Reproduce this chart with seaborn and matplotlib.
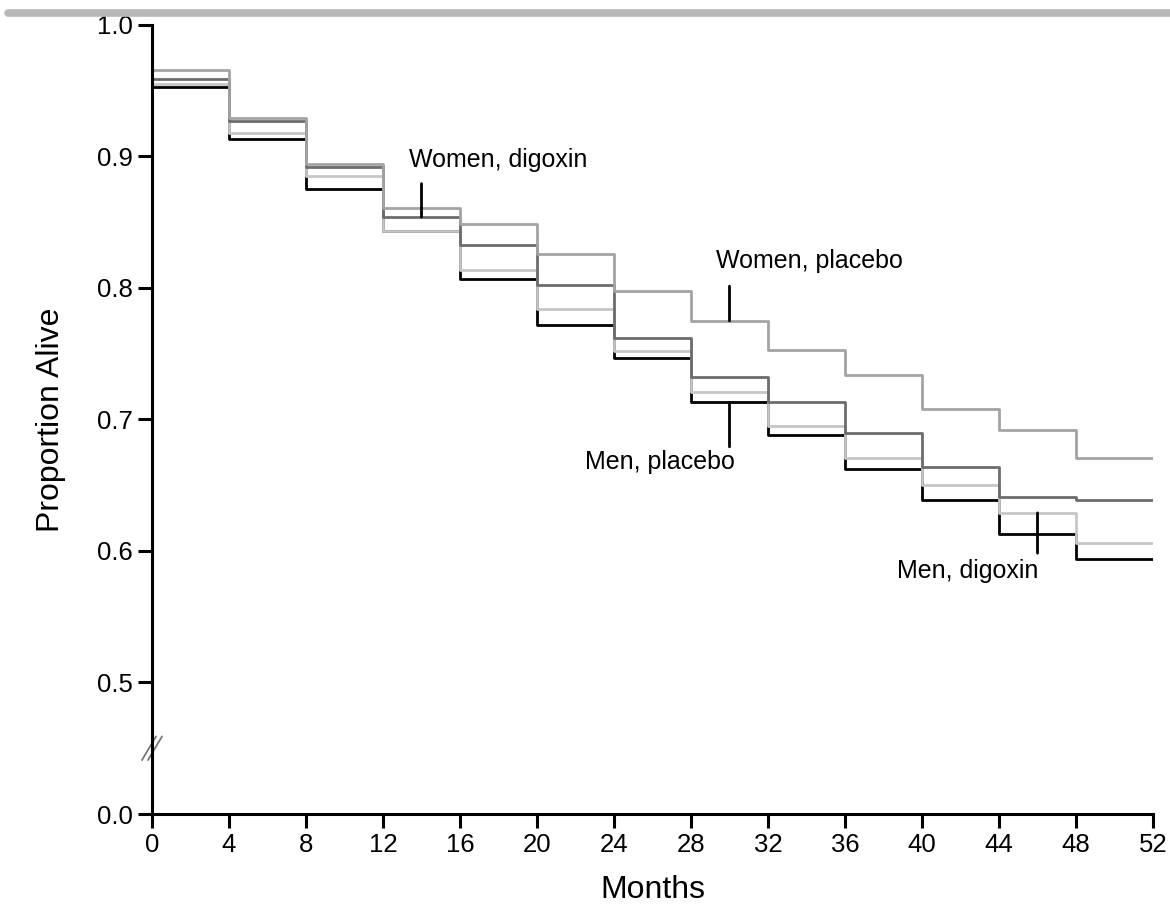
import numpy as np
import pandas as pd
import matplotlib
matplotlib.use("Agg")
import matplotlib.pyplot as plt
from matplotlib.lines import Line2D
import seaborn as sns

# month grid (4-month steps) and survival level in each interval
months = list(range(0, 53, 4))
women_placebo = [0.966, 0.929, 0.894, 0.861, 0.849, 0.826, 0.798, 0.775, 0.753, 0.734, 0.708, 0.692, 0.671]
women_digoxin = [0.959, 0.927, 0.892, 0.854, 0.833, 0.802, 0.762, 0.732, 0.713, 0.690, 0.664, 0.641, 0.639]
men_digoxin = [0.955, 0.918, 0.885, 0.843, 0.814, 0.784, 0.752, 0.721, 0.695, 0.671, 0.650, 0.629, 0.606]
men_placebo = [0.953, 0.913, 0.875, 0.843, 0.807, 0.772, 0.747, 0.713, 0.688, 0.662, 0.639, 0.613, 0.594]

y_ticks = [0.0, 0.5, 0.6, 0.7, 0.8, 0.9, 1.0]

series = {
    "Men, placebo": (men_placebo, "#000000"),
    "Men, digoxin": (men_digoxin, "#c6c6c6"),
    "Women, digoxin": (women_digoxin, "#6c6c6c"),
    "Women, placebo": (women_placebo, "#a3a3a3"),
}

rows = []
for name, (vals, _) in series.items():
    # last level is held until month 52
    for m, v in zip(months, vals + [vals[-1]]):
        rows.append({"Months": m, "Proportion Alive": v, "group": name})
df = pd.DataFrame(rows)


def level(vals, month):
    return vals[int(month // 4)]


sns.set_style("ticks")
plt.rcParams["font.family"] = ["Liberation Sans", "DejaVu Sans"]
for key in ["text.color", "axes.labelcolor", "xtick.color", "ytick.color", "axes.edgecolor"]:
    plt.rcParams[key] = "black"

fig = plt.figure(figsize=(11.7, 9.08), dpi=100)
ax = fig.add_axes([152 / 1170, 94 / 908, 1001 / 1170, 789 / 908])

# broken y axis: 0.0-0.5 squeezed into one tenth
def fwd(v):
    v = np.asarray(v, dtype=float)
    return np.where(v >= 0.5, v, 0.4 + 0.2 * v)

def inv(u):
    u = np.asarray(u, dtype=float)
    return np.where(u >= 0.5, u, (u - 0.4) / 0.2)

ax.set_yscale("function", functions=(fwd, inv))

sns.lineplot(data=df, x="Months", y="Proportion Alive", hue="group",
             hue_order=list(series.keys()),
             palette={k: c for k, (_, c) in series.items()},
             drawstyle="steps-post", lw=2.0, legend=False, ax=ax,
             estimator=None)

ax.set_xlim(0, 52)
ax.set_ylim(0.0, 1.0)
ax.set_xticks(months)
ax.set_yticks(y_ticks)
ax.set_yticklabels([f"{t:.1f}" for t in y_ticks])
ax.minorticks_off()

sns.despine(ax=ax)
for s in ["left", "bottom"]:
    ax.spines[s].set_linewidth(2.2)
ax.tick_params(direction="out", length=10, width=2.2, labelsize=18.5, pad=4)
ax.set_xlabel("Months", fontsize=23, labelpad=13)
ax.set_ylabel("Proportion Alive", fontsize=23, labelpad=22)

# axis break mark
yt = ax.get_yaxis_transform()
for dx in (-0.003, 0.003):
    ax.plot([dx - 0.007, dx + 0.007], [0.25 - 0.045, 0.25 + 0.045],
            color="#777777", lw=1.3, transform=yt, clip_on=False)

# labels with pointer ticks
def label(text, vals, month, up, text_dx, text_dy, ha):
    y = level(vals, month)
    ax.annotate("", xy=(month, y), xytext=(0, up), textcoords="offset points",
                arrowprops=dict(arrowstyle="-", color="black", lw=2,
                                shrinkA=0, shrinkB=0))
    ax.annotate(text, xy=(month, y), xytext=(text_dx, text_dy),
                textcoords="offset points", ha=ha, va="center", fontsize=18)

label("Women, digoxin", women_digoxin, 14, 24, -9, 41, "left")
label("Women, placebo", women_placebo, 30, 25, -10, 43, "left")
label("Men, placebo", men_placebo, 30, -32, 4, -43, "right")
label("Men, digoxin", men_digoxin, 46, -29, -50, -42, "center")

# grey band along the top edge
fig.add_artist(Line2D([8 / 1170, 1.0], [1 - 13 / 908] * 2, color="#b8b8b8", lw=5.5))

fig.savefig("out.png", dpi=100)
